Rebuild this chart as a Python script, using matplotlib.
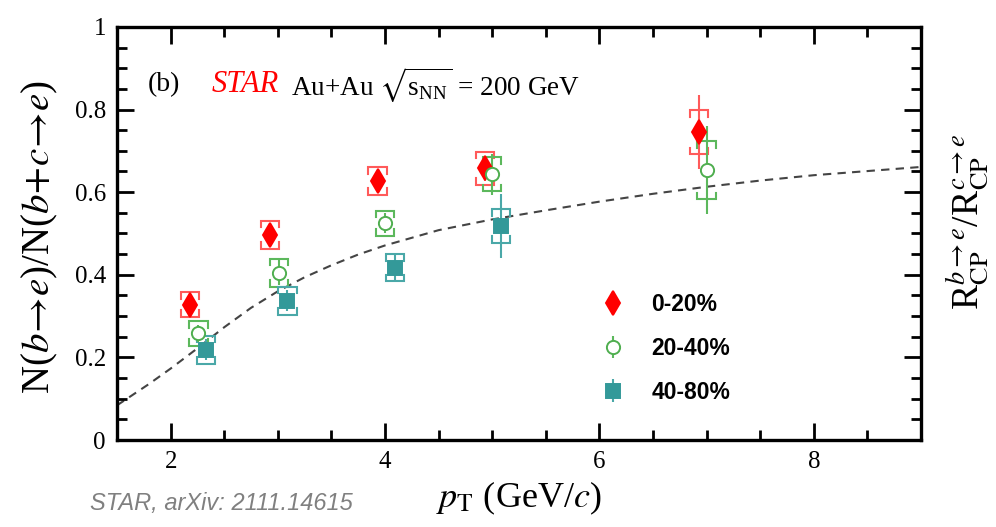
import matplotlib
matplotlib.use("Agg")
import matplotlib.pyplot as plt
import numpy as np

plt.rcParams['font.family'] = ['Liberation Serif', 'DejaVu Serif']
plt.rcParams['mathtext.fontset'] = 'stix'

# 0-20% centrality
pt_0_20 = [2.18, 2.93, 3.93, 4.93, 6.93]
ratio_0_20 = [0.328, 0.497, 0.627, 0.658, 0.745]
stat_0_20 = [0.020, 0.020, 0.020, 0.030, 0.090]
sys_0_20 = [0.030, 0.034, 0.033, 0.040, 0.053]

# 20-40% centrality
pt_20_40 = [2.26, 3.01, 4.00, 5.00, 7.00]
ratio_20_40 = [0.258, 0.405, 0.525, 0.643, 0.653]
stat_20_40 = [0.020, 0.030, 0.025, 0.050, 0.107]
sys_20_40 = [0.030, 0.034, 0.030, 0.041, 0.070]

# 40-80% centrality
pt_40_80 = [2.33, 3.09, 4.09, 5.08]
ratio_40_80 = [0.219, 0.337, 0.417, 0.518]
stat_40_80 = [0.025, 0.025, 0.035, 0.078]
sys_40_80 = [0.034, 0.034, 0.033, 0.040]

# model curve for the RCP ratio
model_pt = [1.5, 1.8, 2.0, 2.25, 2.5, 2.75, 3.0, 3.25, 3.5, 3.75, 4.0, 4.5,
            5.0, 5.5, 6.0, 6.5, 7.0, 7.5, 8.0, 8.5, 9.0]
model_ratio = [0.084, 0.136, 0.173, 0.222, 0.273, 0.320, 0.360, 0.394, 0.423,
               0.449, 0.471, 0.508, 0.534, 0.556, 0.577, 0.596, 0.613, 0.628,
               0.641, 0.651, 0.661]

fig = plt.figure(figsize=(9.96, 5.27), dpi=100)
ax = fig.add_axes([0.1175, 0.165, 0.8072, 0.784])
ax.set_xlim(1.5, 9.0)
ax.set_ylim(0, 1.0)

ax.plot(model_pt, model_ratio, ls=(0, (4, 3)), color='#444444', lw=1.5, zorder=1)


def sys_boxes(ax, x, y, err, color, hw=0.085):
    for xi, yi, ei in zip(x, y, err):
        tick = min(0.016, ei * 0.6)
        top, bot = yi + ei, yi - ei
        for yy, sgn in ((top, -1), (bot, 1)):
            ax.plot([xi - hw, xi - hw, xi + hw, xi + hw],
                    [yy + sgn * tick, yy, yy, yy + sgn * tick],
                    color=color, lw=1.5, solid_joinstyle='miter', zorder=2)


series = [
    (pt_0_20, ratio_0_20, stat_0_20, sys_0_20, 'd', '#ff0000', '#ff0000', '#ff5a5a', 12, '0-20%'),
    (pt_20_40, ratio_20_40, stat_20_40, sys_20_40, 'o', 'white', '#4fae4f', '#5cb85c', 9.5, '20-40%'),
    (pt_40_80, ratio_40_80, stat_40_80, sys_40_80, 's', '#339999', '#339999', '#4aa8a8', 9.5, '40-80%'),
]

handles = []
for x, y, st, sy, m, fc, ec, bc, ms, lab in series:
    sys_boxes(ax, x, y, sy, bc)
    h = ax.errorbar(x, y, yerr=st, fmt=m, mfc=fc, mec=ec, mew=1.4, ms=ms,
                    ecolor=bc, elinewidth=1.5, capsize=0, zorder=3, label=lab)
    handles.append(h)

leg = ax.legend(handles=handles, loc='upper left', bbox_to_anchor=(0.606, 0.355),
                frameon=False, handlelength=0.8, handletextpad=1.25,
                labelspacing=0.9, borderaxespad=0, borderpad=0,
                prop={'family': 'Liberation Sans', 'weight': 'bold', 'size': 16.5})

ax.set_xticks([2, 4, 6, 8])
ax.set_xticks(np.arange(1.5, 9.01, 0.5), minor=True)
ax.set_yticks([0, 0.2, 0.4, 0.6, 0.8, 1.0])
ax.set_yticklabels(['0', '0.2', '0.4', '0.6', '0.8', '1'])
ax.set_yticks(np.arange(0, 1.001, 0.05), minor=True)
ax.tick_params(which='both', direction='in', top=True, right=True, width=2.0,
               labelsize=18, pad=8)
ax.tick_params(which='major', length=12)
ax.tick_params(which='minor', length=7)
for s in ax.spines.values():
    s.set_linewidth(2.4)

ax.text(0.038, 0.86, '(b)', transform=ax.transAxes, fontsize=20, va='center')
ax.text(0.118, 0.86, 'STAR', transform=ax.transAxes, fontsize=22, va='center',
        color='#ff0000', style='italic')
ax.text(0.216, 0.86, r'Au+Au $\sqrt{\mathregular{s}_{\mathregular{NN}}}$ = 200 GeV',
        transform=ax.transAxes, fontsize=19.5, va='center')

ax.set_xlabel(r'$p_{\mathrm{T}}$ (GeV/$c$)', fontsize=26, labelpad=5)
fig.text(0.04, 0.55, r'N($b\!\rightarrow\!e$)/N($b\!+\!c\!\rightarrow\!e$)',
         rotation=90, fontsize=28, ha='center', va='center')
fig.text(0.972, 0.58, r'R$_{\mathrm{CP}}^{b\rightarrow e}$/R$_{\mathrm{CP}}^{c\rightarrow e}$',
         rotation=90, fontsize=27, ha='center', va='center')

fig.text(0.09, 0.045, 'STAR, arXiv: 2111.14615', fontsize=17, color='#808080',
         style='italic', family='Liberation Sans', va='center')

fig.savefig('out.png', dpi=100)
